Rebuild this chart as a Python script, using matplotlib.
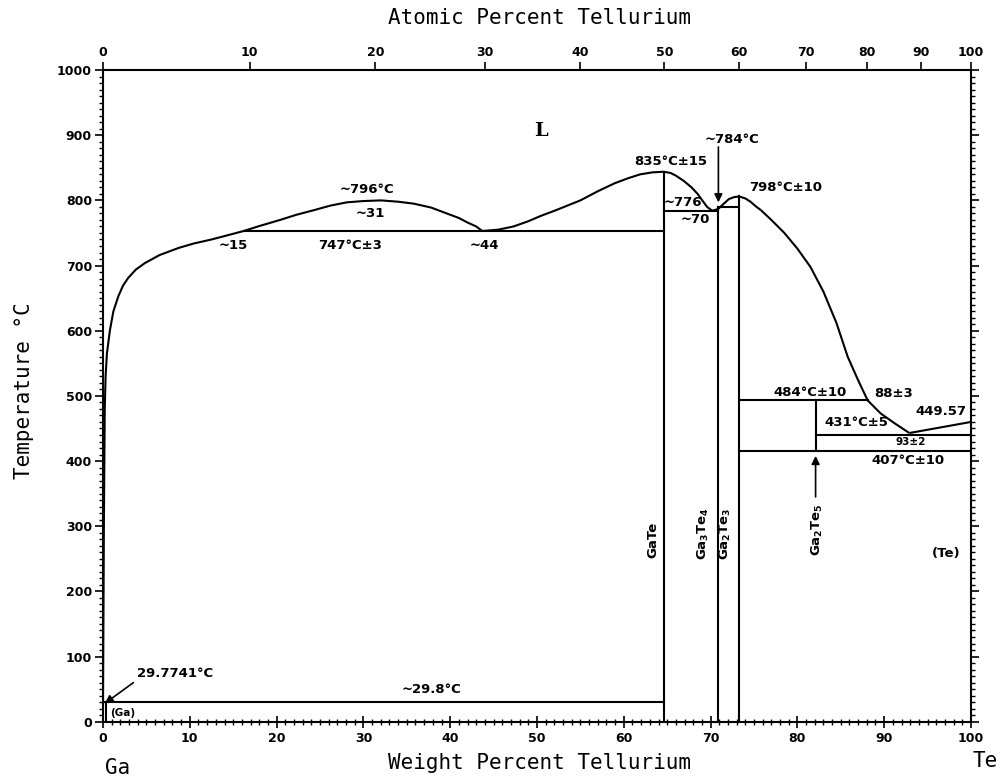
import numpy as np
import matplotlib
matplotlib.use('Agg')
from matplotlib import pyplot as plt

plt.rcParams['font.family'] = ['DejaVu Sans']
plt.rcParams['mathtext.default'] = 'bf'

# --- data (wt% Te, deg C) ---
liq_ga_x = [0, 0.1, 0.2, 0.3, 0.45, 0.8, 1.2, 1.77, 2.3, 2.9, 3.8, 4.85, 6.5, 8.7, 10.5, 12.5, 14.5, 16.2]
liq_ga_t = [29.8, 300, 480, 530, 565, 601, 630, 653, 669, 681, 694, 704, 716, 727, 734, 740, 747, 753]

dome_x = [16.2, 18.1, 20.4, 22.3, 24.3, 26.2, 28.1, 30.0, 32.0, 34.0, 35.8, 37.8, 39.6, 41.0, 42.0, 43.0, 43.7]
dome_t = [753, 761, 770, 778, 785, 792, 797, 799, 800, 798, 795, 789, 780, 773, 766, 760, 753]

liq_gate_x = [43.7, 45.5, 47.3, 49.0, 50.4, 52.0, 53.5, 55.0, 57.0, 58.9, 60.5, 61.9, 63.3, 64.6]
liq_gate_t = [753, 755, 760, 768, 776, 784, 792, 800, 814, 826, 834, 840, 843, 844]

liq_eut1_x = [64.6, 65.4, 66.0, 66.9, 67.8, 68.5, 69.1, 69.6, 70.2]
liq_eut1_t = [844, 842, 838, 830, 820, 810, 799, 790, 784]

liq_g23_x = [70.2, 70.9, 71.2, 71.7, 72.1, 72.7, 73.3, 74.0, 74.6, 75.2, 75.8]
liq_g23_t = [784, 787, 791, 797, 802, 805, 806, 803, 798, 791, 785]

liq_down_x = [75.8, 77.0, 78.5, 80.0, 81.5, 83.0, 84.5, 85.8, 87.0, 88.1, 89.6, 91.2, 92.9]
liq_down_t = [785, 770, 750, 726, 698, 660, 612, 560, 524, 493, 473, 458, 443]

liq_te_x = [92.9, 100]
liq_te_t = [443, 460]

# invariant lines: (x_start, x_end, T)
horiz = [(0, 64.6, 29.8), (16.2, 64.6, 753), (64.6, 70.9, 784),
         (70.9, 73.3, 790), (73.3, 88.1, 493), (82.1, 100, 440), (73.3, 100, 415)]
# compound lines: (x, T_low, T_high)
verts = [(0.4, 0, 29.8), (64.6, 0, 844), (70.9, 0, 790), (73.3, 0, 806), (82.1, 415, 493)]

at_ticks = [0, 10, 20, 30, 40, 50, 60, 70, 80, 90, 100]
M_GA = 69.723
M_TE = 127.6


def at_to_wt(a):
    a = np.asarray(a, dtype=float)
    return 100.0 * a * M_TE / (a * M_TE + (100 - a) * M_GA)


fig = plt.figure(figsize=(10.01, 7.81), dpi=100)
ax = fig.add_axes([0.1029, 0.0759, 0.8671, 0.8344])
lw = 1.5

for xs, ts in [(liq_ga_x, liq_ga_t), (dome_x, dome_t), (liq_gate_x, liq_gate_t),
               (liq_eut1_x, liq_eut1_t), (liq_g23_x, liq_g23_t),
               (liq_down_x, liq_down_t), (liq_te_x, liq_te_t)]:
    ax.plot(xs, ts, color='k', lw=lw, solid_capstyle='butt', solid_joinstyle='round')
for x0, x1, t in horiz:
    ax.plot([x0, x1], [t, t], color='k', lw=lw)
for x, t0, t1 in verts:
    ax.plot([x, x], [t0, t1], color='k', lw=lw)

ax.set_xlim(0, 100)
ax.set_ylim(0, 1000)
for s in ax.spines.values():
    s.set_linewidth(1.5)

ax.set_xticks(np.arange(0, 101, 10))
ax.set_xticks(np.arange(0, 101, 1), minor=True)
ax.set_yticks(np.arange(0, 1001, 100))
ax.set_yticks(np.arange(0, 1001, 10), minor=True)
ax.tick_params(axis='x', which='major', direction='inout', length=9, width=1.2, top=True, labelsize=9, pad=3)
ax.tick_params(axis='x', which='minor', direction='inout', length=4, width=1.0, top=True)
ax.tick_params(axis='y', which='major', direction='out', length=6, width=1.2, right=True, labelsize=9, pad=2)
ax.tick_params(axis='y', which='minor', direction='out', length=3, width=1.0, right=True)
for lab in ax.get_xticklabels() + ax.get_yticklabels():
    lab.set_fontweight('bold')

ax2 = ax.twiny()
ax2.set_xlim(0, 100)
ax2.set_xticks(at_to_wt(at_ticks))
ax2.set_xticklabels([str(a) for a in at_ticks], fontweight='bold', fontsize=9)
ax2.tick_params(axis='x', direction='out', length=6, width=1.2, pad=2)
for s in ax2.spines.values():
    s.set_visible(False)

mono = 'DejaVu Sans Mono'
fig.text(0.539, 0.977, 'Atomic Percent Tellurium', ha='center', va='center', family=mono, fontsize=15)
fig.text(0.539, 0.023, 'Weight Percent Tellurium', ha='center', va='center', family=mono, fontsize=15)
fig.text(0.118, 0.017, 'Ga', ha='center', va='center', family=mono, fontsize=15)
fig.text(0.972, 0.025, 'Te', ha='left', va='center', family=mono, fontsize=15)
fig.text(0.024, 0.5, 'Temperature °C', ha='center', va='center', rotation=90, family=mono, fontsize=15)

bold = dict(fontweight='bold', fontsize=9.5, ha='center', va='center')
ax.text(50.4, 907, 'L', fontsize=14, fontweight='bold', family='DejaVu Serif', ha='center', va='center')
ax.text(30.4, 817, '~796°C', **bold)
ax.text(30.8, 780, '~31', **bold)
ax.text(15.0, 731, '~15', **bold)
ax.text(28.5, 731, '747°C±3', **bold)
ax.text(43.9, 731, '~44', **bold)
ax.text(65.4, 859, '835°C±15', **bold)
ax.text(72.5, 894, '~784°C', **bold)
ax.text(78.7, 820, '798°C±10', **bold)
ax.text(66.8, 796, '~776', **bold)
ax.text(68.2, 770, '~70', **bold)
ax.text(81.5, 505, '484°C±10', **bold)
ax.text(91.1, 504, '88±3', **bold)
ax.text(96.5, 476, '449.57', **bold)
ax.text(86.8, 459, '431°C±5', **bold)
ax.text(93.0, 430, '93±2', fontweight='bold', fontsize=7.5, ha='center', va='center')
ax.text(92.8, 401, '407°C±10', **bold)
ax.text(97.1, 258, '(Te)', **bold)
ax.text(37.9, 49, '~29.8°C', **bold)
ax.text(8.3, 74, '29.7741°C', **bold)
ax.text(2.3, 13, '(Ga)', fontweight='bold', fontsize=7.5, ha='center', va='center')

rot = dict(fontweight='bold', fontsize=9.5, ha='center', va='center', rotation=90)
ax.text(63.3, 279, 'GaTe', **rot)
ax.text(69.2, 289, 'Ga$_3$Te$_4$', **rot)
ax.text(71.7, 289, 'Ga$_2$Te$_3$', **rot)
ax.text(82.3, 294, 'Ga$_2$Te$_5$', **rot)

arr = dict(arrowstyle='-|>', color='k', lw=1.2, mutation_scale=12, shrinkA=0, shrinkB=0)
ax.annotate('', xy=(70.9, 797), xytext=(70.9, 882), arrowprops=dict(arr))
ax.annotate('', xy=(82.1, 408), xytext=(82.1, 345), arrowprops=dict(arr))
ax.annotate('', xy=(0.2, 28), xytext=(3.5, 60), arrowprops=dict(arr))

plt.savefig('out.png', dpi=100)
